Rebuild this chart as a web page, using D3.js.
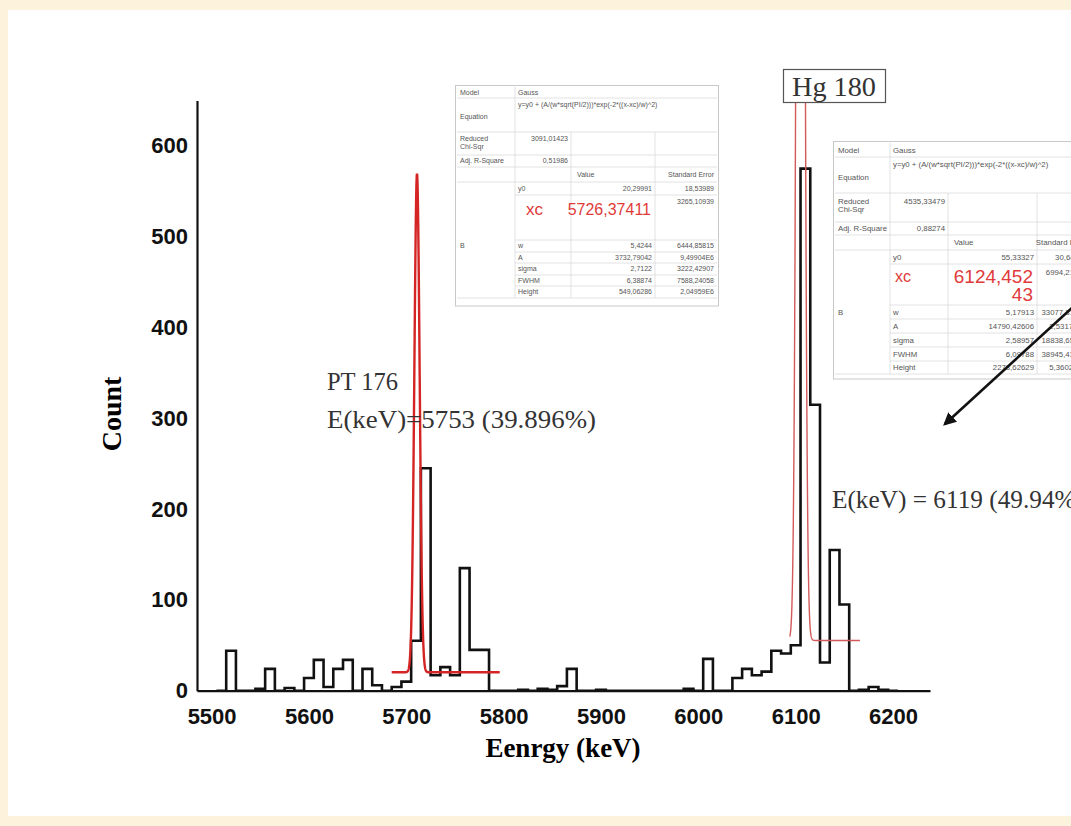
<!DOCTYPE html>
<html>
<head>
<meta charset="utf-8">
<script src="https://cdn.jsdelivr.net/npm/d3@7"></script>
<style>
body { margin: 0; background: #fdf3dc; }
svg { display: block; }
</style>
</head>
<body>
<script>
// histogram: 10 keV bins centred on 5510 ... 6200
var binCenters = d3.range(5510, 6201, 10);
var counts = [0, 44, 0, 0, 2, 24, 0, 3, 0, 14,
	34, 4, 24, 34, 0, 24, 6, 0, 4, 10,
	55, 245, 17, 26, 17, 135, 45, 45, 0, 0,
	0, 1, 0, 2, 1, 5, 24, 0, 0, 1,
	0, 0, 0, 0, 0, 0, 0, 0, 2, 0,
	35, 0, 0, 14, 24, 17, 21, 44, 41, 50,
	575, 315, 31, 155, 95, 0, 1, 4, 1, 0];
var binWidth = 10;

var yTicks = [0, 100, 200, 300, 400, 500, 600];
var xTicks = [5500, 5600, 5700, 5800, 5900, 6000, 6100, 6200];

// gauss fits (y0, xc, w, height, drawn range)
var fitY0 = [20.29991, 55.33327];
var fitXc = [5711, 6105];
var fitW = [5.4244, 6.2];
var fitHeight = [549.06286, 2278.62629];
var fitFrom = [5685, 6094];
var fitTo = [5796, 6166];

// fit report tables
var table1Top = ["Gauss", "y=y0 + (A/(w*sqrt(PI/2)))*exp(-2*((x-xc)/w)^2)", "3091,01423", "0,51986"];
var table1Params = ["y0", "xc", "w", "A", "sigma", "FWHM", "Height"];
var table1Values = ["20,29991", "5726,37411", "5,4244", "3732,79042", "2,7122", "6,38874", "549,06286"];
var table1Errors = ["18,53989", "3265,10939", "6444,85815", "9,49904E6", "3222,42907", "7588,24058", "2,04959E6"];

var table2Top = ["Gauss", "y=y0 + (A/(w*sqrt(PI/2)))*exp(-2*((x-xc)/w)^2)", "4535,33479", "0,88274"];
var table2Values = ["55,33327", "6124,452|43", "5,17913", "14790,42606", "2,58957", "6,09788", "2278,62629"];
var table2Errors = ["30,64711", "6994,21583", "33077,31286", "2,53178E7", "18838,65553", "38945,43213", "5,36029E6"];

var width = 1071, height = 826;

var svg = d3.select("body").append("svg")
	.attr("width", width)
	.attr("height", height);

svg.append("rect").attr("width", width).attr("height", height).attr("fill", "#fdf3dc");
svg.append("rect").attr("x", 8).attr("y", 10).attr("width", width - 8).attr("height", 806).attr("fill", "#fff");

var x = d3.scaleLinear().domain([5485, 6238]).range([197, 930]);
var y = d3.scaleLinear().domain([0, 650]).range([690.7, 100.5]);

svg.append("clipPath").attr("id", "plotclip")
	.append("rect").attr("x", 197).attr("y", 103).attr("width", 733).attr("height", 590);

// axes
var yAxis = svg.append("g")
	.attr("transform", "translate(197,0)")
	.call(d3.axisLeft(y).tickValues(yTicks).tickSize(0).tickSizeOuter(0).tickPadding(9));
var xAxis = svg.append("g")
	.attr("transform", "translate(0," + y(0) + ")")
	.call(d3.axisBottom(x).tickValues(xTicks).tickFormat(d3.format("d")).tickSize(0).tickSizeOuter(0).tickPadding(18));

[xAxis, yAxis].forEach(function (a) {
	a.select(".domain").attr("stroke", "#111").attr("stroke-width", 2.2);
	a.selectAll("text")
		.attr("fill", "#111")
		.style("font-family", "'Liberation Sans', Arial, sans-serif")
		.style("font-weight", "bold")
		.style("font-size", "22px");
});

svg.append("text")
	.attr("transform", "translate(121,414) rotate(-90)")
	.attr("text-anchor", "middle")
	.style("font-family", "'Liberation Serif', 'Times New Roman', serif")
	.style("font-weight", "bold")
	.style("font-size", "28px")
	.text("Count");

svg.append("text")
	.attr("x", 563).attr("y", 757)
	.attr("text-anchor", "middle")
	.style("font-family", "'Liberation Serif', 'Times New Roman', serif")
	.style("font-weight", "bold")
	.style("font-size", "27px")
	.text("Eenrgy (keV)");

// histogram as a step outline
var steps = [[binCenters[0] - binWidth / 2, 0]];
binCenters.forEach(function (c, i) { steps.push([c - binWidth / 2, counts[i]]); });
steps.push([binCenters[binCenters.length - 1] + binWidth / 2, 0]);

svg.append("path")
	.datum(steps)
	.attr("fill", "none")
	.attr("stroke", "#111")
	.attr("stroke-width", 2.6)
	.attr("stroke-linejoin", "miter")
	.attr("d", d3.line()
		.x(function (d) { return x(d[0]); })
		.y(function (d) { return y(d[1]); })
		.curve(d3.curveStepAfter));

// gauss fit curves
var fitColor = ["#d42424", "#d25a5a"];
var fitStroke = [2.4, 1.4];
fitXc.forEach(function (xc, k) {
	var pts = d3.range(fitFrom[k], fitTo[k] + 0.01, 0.2).map(function (e) {
		var u = (e - xc) / fitW[k];
		return [e, fitY0[k] + fitHeight[k] * Math.exp(-2 * u * u)];
	});
	svg.append("path")
		.datum(pts)
		.attr("clip-path", "url(#plotclip)")
		.attr("fill", "none")
		.attr("stroke", fitColor[k])
		.attr("stroke-width", fitStroke[k])
		.attr("d", d3.line()
			.x(function (d) { return x(d[0]); })
			.y(function (d) { return y(d[1]); }));
});

// annotations
var serif = "'Liberation Serif', 'Times New Roman', serif";
function label(tx, ty, str, size, len) {
	var t = svg.append("text")
		.attr("x", tx).attr("y", ty)
		.attr("fill", "#333")
		.style("font-family", serif)
		.style("font-size", size + "px")
		.text(str);
	if (len) t.attr("textLength", len).attr("lengthAdjust", "spacingAndGlyphs");
	return t;
}
label(327, 390, "PT 176", 25, 71);
label(327, 428, "E(keV)=5753 (39.896%)", 25, 269);
label(832, 508, "E(keV) = 6119 (49.94%)", 25, 252);

svg.append("rect")
	.attr("x", 783.5).attr("y", 69.5).attr("width", 102).attr("height", 33)
	.attr("fill", "#fff").attr("stroke", "#555").attr("stroke-width", 1.2);
label(834, 96, "Hg 180", 27, 84).attr("text-anchor", "middle");

// fit report tables
function drawTable(colX, rowY, bottom, fs, top, values, errors, bigXc, bigVal) {
	var g = svg.append("g");
	var font = "'Liberation Sans', Arial, sans-serif";
	var right = colX[colX.length - 1];
	g.append("rect")
		.attr("x", colX[0] - 1.5).attr("y", rowY[0] - 1.5)
		.attr("width", right - colX[0] + 3).attr("height", bottom - rowY[0] + 1.5)
		.attr("fill", "#fff").attr("stroke", "#c8c8c8").attr("stroke-width", 1);
	var line = function (x1, y1, x2, y2) {
		g.append("line").attr("x1", x1).attr("y1", y1).attr("x2", x2).attr("y2", y2)
			.attr("stroke", "#dadada").attr("stroke-width", 0.8);
	};
	rowY.forEach(function (ry, i) {
		if (i === 0) return;
		line(i > 5 && i < rowY.length - 1 ? colX[1] : colX[0], ry, right, ry);
	});
	line(colX[1], rowY[0], colX[1], rowY[rowY.length - 1]);
	line(colX[2], rowY[2], colX[2], rowY[rowY.length - 1]);
	line(colX[3], rowY[2], colX[3], rowY[rowY.length - 1]);

	var txt = function (tx, ty, s, anchor, size, color) {
		return g.append("text").attr("x", tx).attr("y", ty)
			.attr("text-anchor", anchor || "start")
			.attr("dy", "0.35em")
			.attr("fill", color || "#555")
			.style("font-family", font)
			.style("font-size", (size || fs) + "px")
			.text(s);
	};
	var mid = function (i) { return (rowY[i] + rowY[i + 1]) / 2; };
	var lx = colX[0] + 3, px = colX[1] + 3;
	txt(lx, mid(0), "Model");
	txt(px, mid(0), top[0]);
	txt(lx, mid(1) + 2, "Equation");
	txt(px, rowY[1] + fs * 0.9, top[1]);
	txt(lx, rowY[2] + fs * 1.0, "Reduced");
	txt(lx, rowY[2] + fs * 2.1, "Chi-Sqr");
	txt(colX[2] - 3, rowY[2] + fs * 1.0, top[2], "end");
	txt(lx, mid(3), "Adj. R-Square");
	txt(colX[2] - 3, mid(3), top[3], "end");
	txt(colX[2] + 6, mid(4), "Value");
	txt(colX[4] - 3, mid(4), "Standard Error", "end");
	txt(lx, mid(7), "B");
	table1Params.forEach(function (p, i) {
		var r = i + 5;
		if (p === "xc") {
			txt(px + bigXc.dx, mid(r) - bigXc.dy, "xc", "start", bigXc.size, "#e03a3a");
			var parts = values[i].split("|");
			parts.forEach(function (v, j) {
				txt(colX[3] - 4, mid(r) - bigVal.dy + j * bigVal.size * 0.95, v, "end", bigVal.size, "#e03a3a");
			});
			txt(colX[4] - 3, rowY[r] + fs, errors[i], "end");
		} else {
			txt(px, mid(r), p);
			txt(colX[3] - 3, mid(r), values[i], "end");
			txt(colX[4] - 3, mid(r), errors[i], "end");
		}
	});
	return g;
}

drawTable([457, 515, 571, 655, 717],
	[87, 98, 132, 155, 167, 182, 195, 240, 252, 263, 275, 286, 298], 306, 7,
	table1Top, table1Values, table1Errors,
	{ dx: 8, dy: 8, size: 17 }, { dy: 8, size: 16 });

drawTable([835, 890, 948, 1037, 1090],
	[143, 157, 193, 222, 235, 250, 264, 305, 319, 333, 347, 361, 374], 379, 7.8,
	table2Top, table2Values, table2Errors,
	{ dx: 2, dy: 8, size: 16 }, { dy: 8, size: 19 });

// arrow pointing to the Hg peak label
svg.append("defs").append("marker")
	.attr("id", "arrowhead")
	.attr("viewBox", "0 0 10 10")
	.attr("refX", 8).attr("refY", 5)
	.attr("markerWidth", 5).attr("markerHeight", 5)
	.attr("orient", "auto")
	.append("path").attr("d", "M0,0L10,5L0,10z").attr("fill", "#111");

svg.append("line")
	.attr("x1", 1085).attr("y1", 296)
	.attr("x2", 945).attr("y2", 424)
	.attr("stroke", "#111").attr("stroke-width", 2.6)
	.attr("marker-end", "url(#arrowhead)");
</script>
</body>
</html>
